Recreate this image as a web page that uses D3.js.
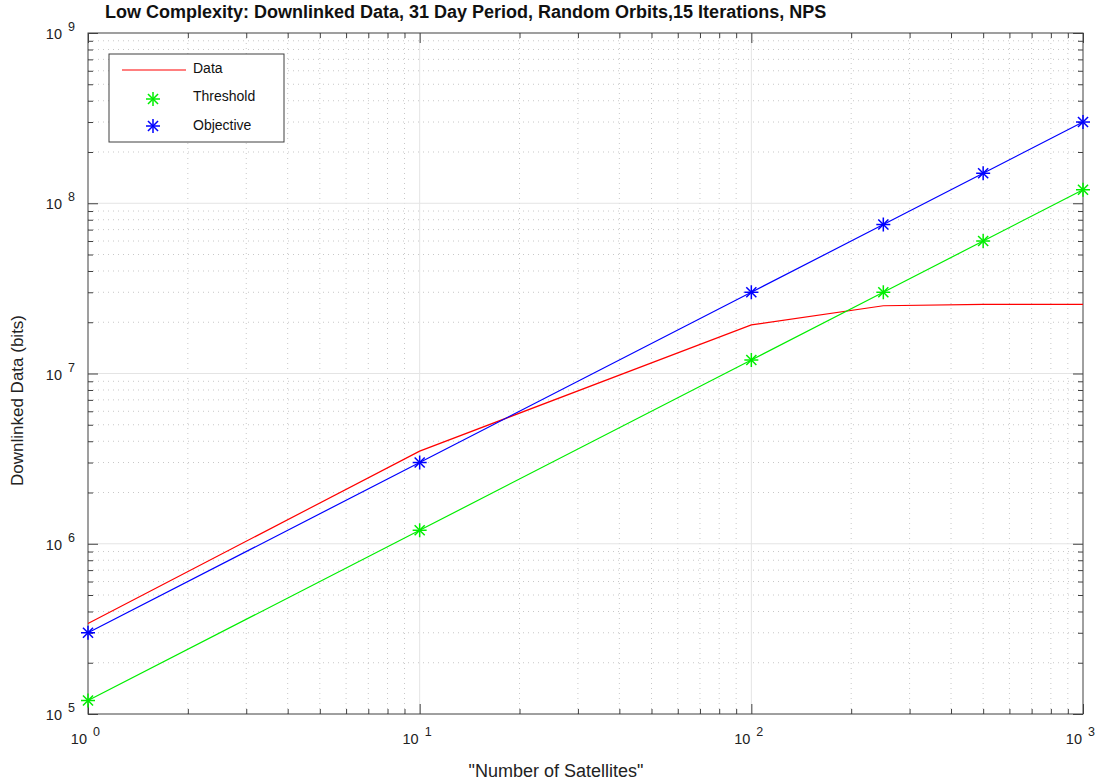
<!DOCTYPE html>
<html><head><meta charset="utf-8">
<script src="https://cdn.jsdelivr.net/npm/d3@7"></script>
<style>body{margin:0;background:#fff;} svg{display:block;} text{font-family:"Liberation Sans",Arial,sans-serif;}</style>
</head><body>
<svg id="c" width="1099" height="782"></svg>
<script>
const xCats = [1, 10, 100, 250, 500, 1000];
const dataVals = [3.4e5, 3.5e6, 1.93e7, 2.5e7, 2.55e7, 2.55e7];
const thresholdVals = [1.2e5, 1.2e6, 1.2e7, 3e7, 6e7, 1.2e8];
const objectiveVals = [3e5, 3e6, 3e7, 7.5e7, 1.5e8, 3e8];
const xTickExp = [0, 1, 2, 3];
const yTickExp = [5, 6, 7, 8, 9];

const svg = d3.select("#c");
const L = 88, R = 1083, T = 33, B = 714;
const x = d3.scaleLog().domain([1, 1000]).range([L, R]);
const y = d3.scaleLog().domain([1e5, 1e9]).range([B, T]);

const minorX = [], minorY = [];
for (let e = 0; e < 3; e++) for (let m = 2; m <= 9; m++) minorX.push(m * Math.pow(10, e));
for (let e = 5; e < 9; e++) for (let m = 2; m <= 9; m++) minorY.push(m * Math.pow(10, e));
const majorX = xTickExp.map(e => Math.pow(10, e));
const majorY = yTickExp.map(e => Math.pow(10, e));

const g = svg.append("g");
g.selectAll(".mgx").data(minorX).enter().append("line")
  .attr("x1", d => x(d)).attr("x2", d => x(d)).attr("y1", T).attr("y2", B)
  .attr("stroke", "#c8c8c8").attr("stroke-width", 1).attr("stroke-dasharray", "1,4");
g.selectAll(".mgy").data(minorY).enter().append("line")
  .attr("y1", d => y(d)).attr("y2", d => y(d)).attr("x1", L).attr("x2", R)
  .attr("stroke", "#c8c8c8").attr("stroke-width", 1).attr("stroke-dasharray", "1,4");
g.selectAll(".Mgx").data(majorX.slice(1, -1)).enter().append("line")
  .attr("x1", d => x(d)).attr("x2", d => x(d)).attr("y1", T).attr("y2", B)
  .attr("stroke", "#e4e4e4").attr("stroke-width", 1);
g.selectAll(".Mgy").data(majorY.slice(1, -1)).enter().append("line")
  .attr("y1", d => y(d)).attr("y2", d => y(d)).attr("x1", L).attr("x2", R)
  .attr("stroke", "#e4e4e4").attr("stroke-width", 1);

const axCol = "#404040";
function styleAxis(sel) {
  sel.select(".domain").remove();
  sel.selectAll("line").attr("stroke", axCol);
  sel.selectAll("text").remove();
}
const majLen = 10, minLen = 5;
svg.append("g").attr("transform", `translate(0,${B})`).call(d3.axisBottom(x).tickValues(majorX).tickSizeInner(-majLen).tickSizeOuter(0)).call(styleAxis);
svg.append("g").attr("transform", `translate(0,${B})`).call(d3.axisBottom(x).tickValues(minorX).tickSizeInner(-minLen).tickSizeOuter(0)).call(styleAxis);
svg.append("g").attr("transform", `translate(0,${T})`).call(d3.axisTop(x).tickValues(majorX).tickSizeInner(-majLen).tickSizeOuter(0)).call(styleAxis);
svg.append("g").attr("transform", `translate(0,${T})`).call(d3.axisTop(x).tickValues(minorX).tickSizeInner(-minLen).tickSizeOuter(0)).call(styleAxis);
svg.append("g").attr("transform", `translate(${L},0)`).call(d3.axisLeft(y).tickValues(majorY).tickSizeInner(-majLen).tickSizeOuter(0)).call(styleAxis);
svg.append("g").attr("transform", `translate(${L},0)`).call(d3.axisLeft(y).tickValues(minorY).tickSizeInner(-minLen).tickSizeOuter(0)).call(styleAxis);
svg.append("g").attr("transform", `translate(${R},0)`).call(d3.axisRight(y).tickValues(majorY).tickSizeInner(-majLen).tickSizeOuter(0)).call(styleAxis);
svg.append("g").attr("transform", `translate(${R},0)`).call(d3.axisRight(y).tickValues(minorY).tickSizeInner(-minLen).tickSizeOuter(0)).call(styleAxis);

svg.append("rect").attr("x", L).attr("y", T).attr("width", R - L).attr("height", B - T)
  .attr("fill", "none").attr("stroke", axCol).attr("stroke-width", 1);

const fs = 14.5, fsSup = 12.5;
function tickLabel(xEnd, yBase, e) {
  svg.append("text").attr("x", xEnd).attr("y", yBase).attr("text-anchor", "end")
    .attr("font-size", fs).attr("fill", "#222").text("10");
  svg.append("text").attr("x", xEnd + 6).attr("y", yBase - 8).attr("text-anchor", "start")
    .attr("font-size", fsSup).attr("fill", "#222").text(e);
}
xTickExp.forEach(e => tickLabel(x(Math.pow(10, e)) - 1, 744, e));
yTickExp.forEach(e => tickLabel(62, y(Math.pow(10, e)) + 6, e));

const line = d3.line().x(d => x(d[0])).y(d => y(d[1]));
function series(vals, col) {
  svg.append("path").datum(xCats.map((c, i) => [c, vals[i]])).attr("d", line)
    .attr("fill", "none").attr("stroke", col).attr("stroke-width", 1.2);
}
series(dataVals, "#ff0000");
series(thresholdVals, "#00ee00");
series(objectiveVals, "#0000ff");

function star(px, py, col, r) {
  const gg = svg.append("g").attr("stroke", col).attr("stroke-width", 1.5);
  const d = r * 0.72;
  gg.append("line").attr("x1", px - r).attr("x2", px + r).attr("y1", py).attr("y2", py);
  gg.append("line").attr("x1", px).attr("x2", px).attr("y1", py - r).attr("y2", py + r);
  gg.append("line").attr("x1", px - d).attr("x2", px + d).attr("y1", py - d).attr("y2", py + d);
  gg.append("line").attr("x1", px - d).attr("x2", px + d).attr("y1", py + d).attr("y2", py - d);
}
xCats.forEach((c, i) => star(x(c), y(thresholdVals[i]), "#00ee00", 7));
xCats.forEach((c, i) => star(x(c), y(objectiveVals[i]), "#0000ff", 7));

svg.append("rect").attr("x", 109).attr("y", 54).attr("width", 175).attr("height", 88)
  .attr("fill", "#fff").attr("stroke", axCol).attr("stroke-width", 1);
svg.append("line").attr("x1", 122).attr("x2", 186).attr("y1", 70).attr("y2", 70).attr("stroke", "#ff0000").attr("stroke-width", 1.2);
star(153, 99, "#00ee00", 7);
star(153, 126, "#0000ff", 7);
const legNames = ["Data", "Threshold", "Objective"];
const legY = [73, 101, 130];
legNames.forEach((n, i) => svg.append("text").attr("x", 193).attr("y", legY[i]).attr("font-size", 14).attr("fill", "#111").text(n));

svg.append("text").attr("x", 105).attr("y", 18).attr("font-size", 18).attr("font-weight", "bold").attr("fill", "#111")
  .text("Low Complexity: Downlinked Data, 31 Day Period, Random Orbits,15 Iterations, NPS");
svg.append("text").attr("transform", `translate(23,${(T + B) / 2 + 27}) rotate(-90)`).attr("text-anchor", "middle")
  .attr("font-size", 17).attr("fill", "#222").text("Downlinked Data (bits)");
svg.append("text").attr("x", 556).attr("y", 777).attr("text-anchor", "middle")
  .attr("font-size", 18).attr("fill", "#222").text("\"Number of Satellites\"");
</script>
</body></html>
